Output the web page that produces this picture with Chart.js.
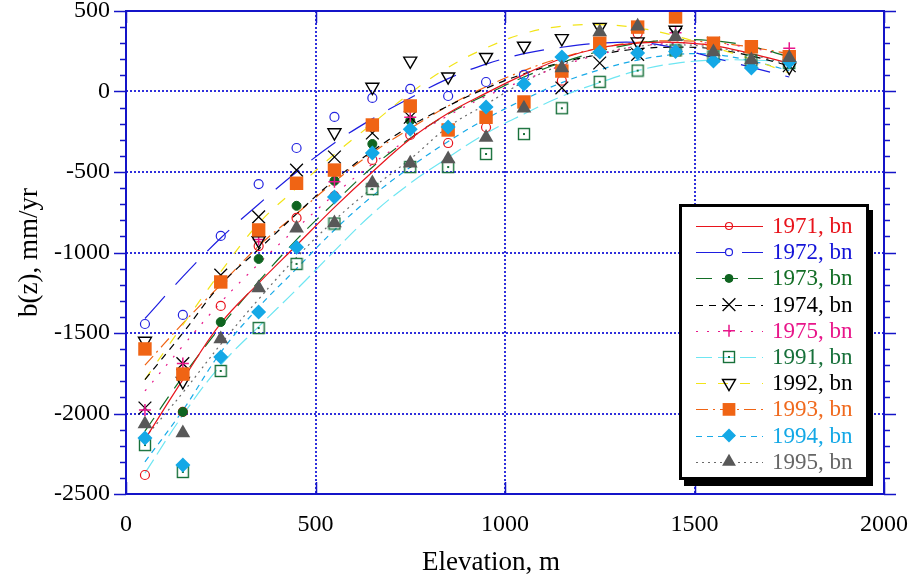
<!DOCTYPE html>
<html>
<head>
<meta charset="utf-8">
<script src="https://cdn.jsdelivr.net/npm/chart.js@4.4.0/dist/chart.umd.min.js"></script>
<style>
  html, body { margin: 0; padding: 0; background: #fff; }
  #wrap { width: 914px; height: 577px; }
</style>
</head>
<body>
<div id="wrap"><canvas id="massChart" width="914" height="577"></canvas></div>
<script>
const FONT = "'Liberation Serif', 'Times New Roman', serif";
Chart.defaults.font.family = FONT;

// band mid elevations, m
const elevations = [50, 150, 250, 350, 450, 550, 650, 750, 850, 950, 1050, 1150, 1250, 1350, 1450, 1550, 1650, 1750];

// fitted curves b(z), mm/yr
const fit1971 = [-2160, -1790, -1440, -1190, -955, -720, -500, -295, -135, -10, 105, 205, 270, 300, 305, 285, 235, 175];
const fit1972 = [-1410, -1150, -910, -700, -500, -320, -170, -40, 80, 170, 235, 275, 300, 305, 270, 210, 150, 90];
const fit1973 = [-2110, -1770, -1460, -1180, -920, -690, -470, -290, -140, -20, 90, 180, 250, 300, 320, 315, 280, 215];
const fit1974 = [-1790, -1500, -1200, -980, -760, -550, -370, -215, -90, 20, 110, 180, 230, 265, 275, 265, 220, 160];
const fit1975 = [-1860, -1580, -1310, -1070, -850, -640, -450, -290, -150, -30, 70, 160, 230, 280, 300, 300, 270, 220];
const fit1991 = [-2370, -2010, -1700, -1460, -1230, -990, -760, -570, -410, -260, -140, -30, 55, 130, 175, 195, 195, 185];
const fit1992 = [-1790, -1450, -1120, -820, -600, -390, -200, -10, 150, 270, 360, 405, 415, 395, 345, 275, 200, 115];
const fit1993 = [-1700, -1440, -1200, -960, -760, -560, -380, -230, -90, 30, 130, 210, 270, 305, 315, 305, 275, 235];
const fit1994 = [-2300, -1980, -1620, -1340, -1100, -860, -650, -470, -310, -170, -50, 55, 135, 195, 230, 230, 190, 130];
const fit1995 = [-2150, -1870, -1570, -1290, -1030, -800, -600, -420, -220, -80, 60, 165, 235, 280, 290, 275, 230, 165];

// measured points (null = not visible)
const obs1971 = [-2382, -1990, -1332, -960, -785, -650, -425, -270, -320, -222, null, 67, null, 360, null, null, null, null];
const obs1972 = [-1444, -1388, -897, -575, -351, -158, -40, 16, -28, 59, 103, null, null, null, null, null, null, null];
const obs1973 = [null, -1990, -1432, -1040, -710, -555, -326, -180, null, null, null, null, null, null, null, null, null, null];
const obs1974 = [-1966, -1690, -1140, -779, -488, -407, -258, -160, null, null, null, 22, 177, 230, 355, 300, null, 160];
const obs1975 = [-1978, -1690, null, -920, null, -560, -380, -160, null, null, null, null, null, null, 365, null, null, 268];
const obs1991 = [-2196, -2363, -1736, -1469, -1071, -820, -606, -469, -469, -388, -264, -104, 60, 130, 255, 218, 193, 177];
const obs1992 = [-1550, -1800, null, -925, null, -255, 28, 190, 92, 213, 283, 330, 400, 310, 382, null, null, 152];
const obs1993 = [-1599, -1755, -1183, -860, -570, -488, -208, -90, -239, -160, -65, 127, 300, 400, 463, 300, 278, 216];
const obs1994 = [-2152, -2320, -1649, -1370, -967, -655, -382, -234, -220, -96, 47, 215, 245, 239, 248, 190, 146, 185];
const obs1995 = [-2065, -2121, -1537, -1220, -850, -817, -568, -445, -420, -285, -104, 146, 370, 405, 340, 245, 196, 210];

const xTicks = [0, 500, 1000, 1500, 2000];
const yTicks = [-2500, -2000, -1500, -1000, -500, 0, 500];
const xTitle = "Elevation, m";
const yTitle = "b(z), mm/yr";

// open square with a dot, used for 1991
function squareDot() {
  const c = document.createElement("canvas");
  c.width = 14; c.height = 14;
  const g = c.getContext("2d");
  g.strokeStyle = "#17703a";
  g.lineWidth = 1.4;
  g.strokeRect(1.5, 1.5, 11, 11);
  g.fillStyle = "#17703a";
  g.fillRect(6, 6, 2, 2);
  return c;
}
const sqDot = squareDot();

const series = [
  { label: "1971, bn", fit: fit1971, obs: obs1971, line: "#e8141c", dash: [], text: "#e8141c",
    pt: { style: "circle", r: 4.5, lr: 3.5, fill: "transparent", stroke: "#e8141c", w: 1.2 } },
  { label: "1972, bn", fit: fit1972, obs: obs1972, line: "#1e1ee0", dash: [30, 16], text: "#1414d8",
    pt: { style: "circle", r: 4.5, lr: 3.5, fill: "transparent", stroke: "#2424e0", w: 1.2 } },
  { label: "1973, bn", fit: fit1973, obs: obs1973, line: "#136e26", dash: [16, 10], text: "#136e26",
    pt: { style: "circle", r: 4.5, lr: 4, fill: "#0f6420", stroke: "#0f6420", w: 1 } },
  { label: "1974, bn", fit: fit1974, obs: obs1974, line: "#000000", dash: [7, 6], text: "#000000",
    pt: { style: "crossRot", r: 9, lr: 9, fill: "transparent", stroke: "#000000", w: 1.3 } },
  { label: "1975, bn", fit: fit1975, obs: obs1975, line: "#e8168a", dash: [2, 9], text: "#e8168a",
    pt: { style: "cross", r: 6, lr: 6, fill: "transparent", stroke: "#e8168a", w: 1.5 } },
  { label: "1991, bn", fit: fit1991, obs: obs1991, line: "#6ee6f2", dash: [16, 6], text: "#17703a",
    pt: { style: sqDot, r: 7, lr: 7, fill: "transparent", stroke: "#17703a", w: 1 } },
  { label: "1992, bn", fit: fit1992, obs: obs1992, line: "#f2e418", dash: [10, 12], text: "#000000",
    pt: { style: "triangle", rot: 180, r: 7.5, lr: 7.5, fill: "transparent", stroke: "#000000", w: 1.4 } },
  { label: "1993, bn", fit: fit1993, obs: obs1993, line: "#f06414", dash: [12, 5, 2, 5], text: "#f06a1e",
    pt: { style: "rect", r: 9.5, lr: 9, fill: "#f06414", stroke: "#f06414", w: 0 } },
  { label: "1994, bn", fit: fit1994, obs: obs1994, line: "#18aae8", dash: [6, 5], text: "#14a8e6",
    pt: { style: "rectRot", r: 7.5, lr: 7, fill: "#14a8e6", stroke: "#14a8e6", w: 0 } },
  { label: "1995, bn", fit: fit1995, obs: obs1995, line: "#6a6a6a", dash: [2, 4], text: "#666666",
    pt: { style: "triangle", r: 8.5, lr: 8, fill: "#585858", stroke: "#585858", w: 0 } },
];

function toPoints(vals) {
  const out = [];
  vals.forEach((v, i) => { if (v !== null) out.push({ x: elevations[i], y: v }); });
  return out;
}

const datasets = [];
series.forEach((s, i) => {
  datasets.push({
    label: s.label + " fit",
    data: toPoints(s.fit),
    showLine: true,
    borderColor: s.line,
    borderDash: s.dash,
    borderWidth: 1.2,
    pointRadius: 0,
    tension: 0.4,
    fill: false,
    order: 100 + i,
  });
  datasets.push({
    label: s.label,
    data: toPoints(s.obs),
    showLine: false,
    pointStyle: s.pt.style,
    pointRotation: s.pt.rot || 0,
    pointRadius: s.pt.r,
    pointBackgroundColor: s.pt.fill,
    pointBorderColor: s.pt.stroke,
    pointBorderWidth: s.pt.w,
    order: 9 - i,
  });
});

const BLUE = "#1414c8";

function drawMarker(ctx, pt, x, y) {
  ctx.save();
  ctx.lineWidth = pt.w || 1;
  ctx.strokeStyle = pt.stroke;
  ctx.fillStyle = pt.fill;
  const r = pt.lr;
  if (typeof pt.style !== "string") {
    ctx.drawImage(pt.style, x - pt.style.width / 2, y - pt.style.height / 2);
    ctx.restore();
    return;
  }
  ctx.beginPath();
  if (pt.style === "circle") {
    ctx.arc(x, y, r, 0, Math.PI * 2);
  } else if (pt.style === "rect") {
    const h = r * Math.SQRT1_2;
    ctx.rect(x - h, y - h, 2 * h, 2 * h);
  } else if (pt.style === "rectRot") {
    ctx.moveTo(x, y - r); ctx.lineTo(x + r, y); ctx.lineTo(x, y + r); ctx.lineTo(x - r, y); ctx.closePath();
  } else if (pt.style === "triangle") {
    let a = (pt.rot || 0) * Math.PI / 180;
    for (let k = 0; k < 3; k++) {
      const px = x + Math.sin(a) * r, py = y - Math.cos(a) * r;
      if (k === 0) ctx.moveTo(px, py); else ctx.lineTo(px, py);
      a += Math.PI * 2 / 3;
    }
    ctx.closePath();
  } else if (pt.style === "crossRot") {
    const h = r * Math.SQRT1_2;
    ctx.moveTo(x - h, y - h); ctx.lineTo(x + h, y + h);
    ctx.moveTo(x + h, y - h); ctx.lineTo(x - h, y + h);
  } else if (pt.style === "cross") {
    ctx.moveTo(x, y - r); ctx.lineTo(x, y + r);
    ctx.moveTo(x - r, y); ctx.lineTo(x + r, y);
  }
  if (pt.fill !== "transparent") ctx.fill();
  if (pt.w > 0) ctx.stroke();
  ctx.restore();
}

const framePlugin = {
  id: "frame",
  afterDraw(chart) {
    const { ctx, chartArea: a, scales } = chart;
    const xs = scales.x, ys = scales.y;
    ctx.save();
    ctx.strokeStyle = BLUE;
    ctx.lineWidth = 2;
    ctx.strokeRect(a.left, a.top, a.right - a.left, a.bottom - a.top);
    ctx.lineWidth = 1.5;
    ctx.beginPath();
    for (let v = -2500; v <= 500; v += 100) {
      const py = Math.round(ys.getPixelForValue(v)) + 0.5;
      const len = v % 500 === 0 ? 12 : 6;
      ctx.moveTo(a.left - len, py); ctx.lineTo(a.left, py);
      ctx.moveTo(a.right, py); ctx.lineTo(a.right + len, py);
    }
    xTicks.forEach((v) => {
      const px = Math.round(xs.getPixelForValue(v)) + 0.5;
      ctx.moveTo(px, a.bottom); ctx.lineTo(px, a.bottom - 12);
      ctx.moveTo(px, a.top); ctx.lineTo(px, a.top + 12);
    });
    ctx.stroke();

    // x axis title sits a little left of centre in the original
    ctx.fillStyle = "#000";
    ctx.font = "27px " + FONT;
    ctx.textAlign = "center";
    ctx.textBaseline = "middle";
    ctx.fillText(xTitle, 491, 563);
    ctx.restore();

    // legend box
    const bx = 680, by = 205, bw = 187, bh = 273;
    ctx.save();
    ctx.fillStyle = "#000";
    ctx.fillRect(bx + 4, by + 5, bw + 2, bh + 3);
    ctx.fillStyle = "#fff";
    ctx.fillRect(bx, by, bw, bh);
    ctx.lineWidth = 3;
    ctx.strokeStyle = "#000";
    ctx.strokeRect(bx + 0.5, by + 0.5, bw, bh);
    ctx.font = "23px " + FONT;
    ctx.textBaseline = "middle";
    series.forEach((s, i) => {
      const ry = 226 + i * 26.2;
      ctx.save();
      ctx.strokeStyle = s.line;
      ctx.lineWidth = 1.2;
      ctx.setLineDash(s.dash);
      ctx.beginPath();
      ctx.moveTo(696, Math.round(ry) + 0.5);
      ctx.lineTo(763, Math.round(ry) + 0.5);
      ctx.stroke();
      ctx.restore();
      drawMarker(ctx, s.pt, 729, ry);
      ctx.fillStyle = s.text;
      ctx.fillText(s.label, 772, ry + 1);
    });
    ctx.restore();
  },
};

new Chart(document.getElementById("massChart"), {
  type: "scatter",
  data: { datasets },
  options: {
    responsive: false,
    animation: false,
    devicePixelRatio: 1,
    layout: { padding: { top: 11, right: 30, left: 0, bottom: 0 } },
    plugins: { legend: { display: false }, tooltip: { enabled: false } },
    scales: {
      x: {
        type: "linear",
        min: 0,
        max: 2000,
        afterBuildTicks: (s) => { s.ticks = xTicks.map((v) => ({ value: v })); },
        afterFit: (s) => { s.height = 83; s.paddingLeft = 0; s.paddingRight = 0; },
        ticks: { color: "#000", padding: 16, font: { family: FONT, size: 24 }, maxRotation: 0,
          callback: (v) => String(v) },
        grid: { color: "#3030dc", lineWidth: 2, drawTicks: false },
        border: { display: false, dash: [2, 2] },
        title: { display: false },
      },
      y: {
        type: "linear",
        min: -2500,
        max: 500,
        afterBuildTicks: (s) => { s.ticks = yTicks.map((v) => ({ value: v })); },
        afterFit: (s) => { s.width = 126; s.paddingTop = 0; s.paddingBottom = 0; },
        ticks: { color: "#000", padding: 16, font: { family: FONT, size: 24 },
          callback: (v) => String(v) },
        grid: { color: "#3030dc", lineWidth: 2, drawTicks: false },
        border: { display: false, dash: [2, 2] },
        title: { display: true, text: yTitle, color: "#000", font: { family: FONT, size: 27, lineHeight: 1 }, padding: { top: 16, bottom: 0 } },
      },
    },
  },
  plugins: [framePlugin],
});
</script>
</body>
</html>
